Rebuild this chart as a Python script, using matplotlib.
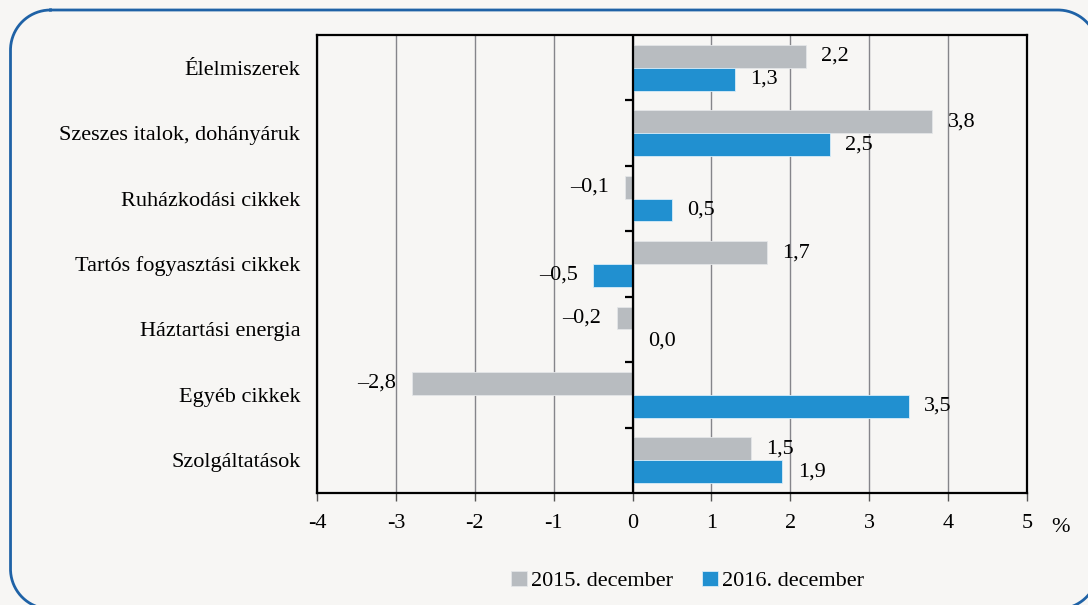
import matplotlib.pyplot as plt
from matplotlib.lines import Line2D
import numpy as np

plt.rcParams['font.family'] = ['Liberation Serif', 'DejaVu Serif']
plt.rcParams['axes.unicode_minus'] = False

categories = ['Élelmiszerek', 'Szeszes italok, dohányáruk', 'Ruházkodási cikkek',
              'Tartós fogyasztási cikkek', 'Háztartási energia', 'Egyéb cikkek',
              'Szolgáltatások']
dec_2015 = [2.2, 3.8, -0.1, 1.7, -0.2, -2.8, 1.5]
dec_2016 = [1.3, 2.5, 0.5, -0.5, 0.0, 3.5, 1.9]
series_names = ['2015. december', '2016. december']
xticks = [-4, -3, -2, -1, 0, 1, 2, 3, 4, 5]

bg = '#f7f6f4'
grey = '#b8bcc0'
blue = '#2190d0'
fs = 16

fig = plt.figure(figsize=(10.88, 6.05), dpi=100, facecolor=bg)
W, H = 1088.0, 605.0


def rounded_frame(x0, y0, x1, y1, r, n=40):
    # outline of a rounded rectangle in pixels, parts outside the figure dropped
    pts = []
    corners = [(x0 + r, y1 - r, 90, 180), (x0 + r, y0 + r, 180, 270),
               (x1 - r, y0 + r, 270, 360), (x1 - r, y1 - r, 0, 90)]
    for cx, cy, a0, a1 in corners:
        t = np.radians(np.linspace(a0, a1, n))
        pts.append(np.column_stack([cx + r * np.cos(t), cy + r * np.sin(t)]))
    pts.append(pts[0][:1])
    p = np.vstack(pts)
    out = (p[:, 0] > W + 2) | (p[:, 1] < -2)
    p[out] = np.nan
    return p


frame = rounded_frame(10.5, -4, 1098, 595, 40)
fig.add_artist(Line2D(frame[:, 0] / W, frame[:, 1] / H, transform=fig.transFigure,
                      color='#1f62a6', lw=2))

ax = fig.add_axes([317 / W, 1 - 493 / H, 710 / W, 458 / H])
ax.set_facecolor(bg)

y = np.arange(len(categories))
h = 0.35
b1 = ax.barh(y - h / 2, dec_2015, height=h, color=grey, edgecolor='#e4e6e8', lw=0.6, zorder=3)
b2 = ax.barh(y + h / 2, dec_2016, height=h, color=blue, edgecolor='#d8ecf8', lw=0.6, zorder=3)


def fmt(v):
    s = ('%.1f' % abs(v)).replace('.', ',')
    return ('\u2013' + s) if v < 0 else s


for vals, ys in ((dec_2015, y - h / 2), (dec_2016, y + h / 2)):
    for v, yy in zip(vals, ys):
        if v < 0:
            ax.annotate(fmt(v), (v, yy), xytext=(-11, 0), textcoords='offset points',
                        ha='right', va='center', fontsize=fs, zorder=4)
        else:
            ax.annotate(fmt(v), (v, yy), xytext=(11, 0), textcoords='offset points',
                        ha='left', va='center', fontsize=fs, zorder=4)

ax.set_xlim(-4, 5)
ax.set_ylim(len(categories) - 0.5, -0.5)
ax.set_xticks(xticks)
ax.set_xticklabels([str(t) for t in xticks], fontsize=fs)
ax.set_yticks(y)
ax.set_yticklabels(categories, fontsize=fs)
ax.tick_params(axis='y', length=0, pad=12)
ax.tick_params(axis='x', length=6, width=1, color='#555555', pad=9, direction='out')
ax.grid(axis='x', color='#85858a', lw=1, zorder=1)
for s in ax.spines.values():
    s.set_color('black')
    s.set_linewidth(1.6)

# zero line with small category separators
ax.axvline(0, color='black', lw=1.6, zorder=5)
bounds = np.arange(len(categories) - 1) + 0.5
ax.plot(np.zeros(len(bounds)), bounds, ls='none', marker=0, ms=6, mew=1.6,
        color='black', zorder=5)

fig.text(1061 / W, 1 - 528 / H, '%', fontsize=fs, ha='center', va='center')

fig.legend([b1, b2], series_names, loc='center', bbox_to_anchor=(0.632, 1 - 581 / H),
           ncol=2, frameon=False, fontsize=fs, handlelength=0.7, handleheight=0.7,
           handletextpad=0.2, columnspacing=1.3)

fig.savefig('out.png', dpi=100, facecolor=bg)
